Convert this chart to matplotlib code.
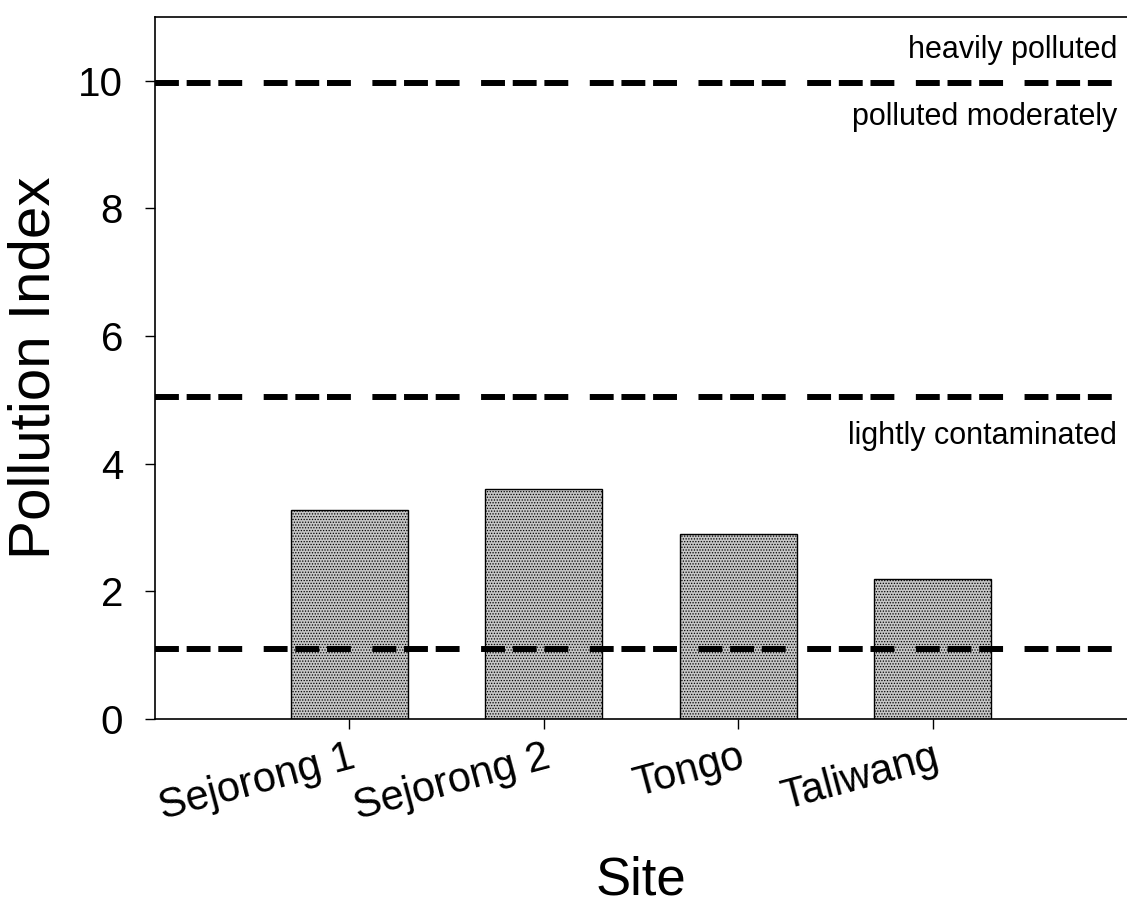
import numpy as np
import matplotlib
matplotlib.use("Agg")
import matplotlib.pyplot as plt

plt.rcParams['font.family'] = ['Liberation Sans', 'DejaVu Sans']
plt.rcParams['hatch.linewidth'] = 0.6
plt.rcParams['hatch.color'] = '#6e6e6e'

# data
sites = ["Sejorong 1", "Sejorong 2", "Tongo", "Taliwang"]
pi_vals = [3.27, 3.61, 2.90, 2.19]
thresholds = [1.1, 5.05, 9.97]
zone_labels = ["lightly contaminated", "polluted moderately", "heavily polluted"]
zone_y = [4.44, 9.44, 10.48]

fig = plt.figure(figsize=(11.27, 9.09), dpi=100)
ax = fig.add_axes([0.1375, 0.209, 0.8625, 0.7723])

xs = np.arange(1, len(sites) + 1)
ax.bar(xs, pi_vals, width=0.6, color='#c6c6c6', edgecolor='black',
       linewidth=1.0, hatch='......', zorder=2)

# threshold lines
for t in thresholds:
    ax.axhline(t, color='black', lw=4.3, zorder=3,
               dashes=(4.0, 1.3, 4.0, 1.3, 4.0, 3.6))

for lab, yy in zip(zone_labels, zone_y):
    ax.text(4.95, yy, lab, ha='right', va='center', fontsize=22)

ax.set_xlim(0, 5)
ax.set_ylim(0, 11)
ax.set_yticks([0, 2, 4, 6, 8, 10])
ax.set_xticks(xs)
ax.set_xticklabels(sites, rotation=15, ha='right', va='top',
                   rotation_mode='anchor')
ax.tick_params(axis='both', direction='out', length=7, width=1.0)
ax.tick_params(axis='y', pad=16, labelsize=29)
ax.tick_params(axis='x', pad=6, labelsize=30)

ax.spines['right'].set_visible(False)
for s in ['left', 'top', 'bottom']:
    ax.spines[s].set_linewidth(1.2)

ax.set_ylabel("Pollution Index", fontsize=42, labelpad=12)
ax.set_xlabel("Site", fontsize=38, labelpad=20)

fig.savefig("out.png", dpi=100)
